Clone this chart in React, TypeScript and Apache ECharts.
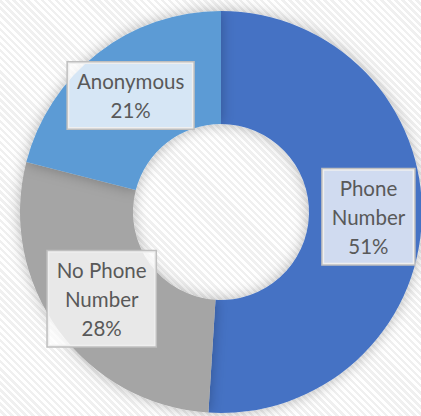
import React, { useEffect, useRef } from "react";
import * as echarts from "echarts";

const categories = ["Phone Number", "No Phone Number", "Anonymous"];
const labelText = ["Phone\nNumber", "No Phone\nNumber", "Anonymous"];
const values = [51, 28, 21];
const colors = ["#4472C4", "#A5A5A5", "#5B9BD5"];

export default function App() {
  const ref = useRef<HTMLDivElement>(null);
  useEffect(() => {
    document.body.style.margin = "0";
    const chart = echarts.init(ref.current!, null, { renderer: "svg" });
    chart.setOption({
      animation: false,
      backgroundColor: "transparent",
      series: [
        {
          type: "pie",
          center: [221, 212],
          radius: [88, 201],
          startAngle: 90,
          clockwise: true,
          data: categories.map((c, i) => ({
            name: c,
            value: values[i],
            itemStyle: { color: colors[i] },
          })),
          itemStyle: {
            shadowBlur: 14,
            shadowColor: "rgba(0,0,0,0.28)",
            borderWidth: 0,
          },
          emphasis: { disabled: true },
          label: {
            show: true,
            position: "inside",
            formatter: (p: any) => `${labelText[p.dataIndex]}\n${p.percent.toFixed(0)}%`,
            fontFamily: "Lato, 'Open Sans', sans-serif",
            fontSize: 20.5,
            lineHeight: 29,
            color: "#595959",
            backgroundColor: "rgba(255,255,255,0.75)",
            borderColor: "#BFBFBF",
            borderWidth: 1.5,
            padding: [5, 9, 3, 9],
            align: "center",
          },
          labelLine: { show: false },
        },
      ],
    });
    return () => chart.dispose();
  }, []);
  return (
    <div
      style={{
        width: 421,
        height: 416,
        background:
          "repeating-linear-gradient(45deg, #ffffff 0px, #ffffff 2.5px, #f0f0f0 2.5px, #f0f0f0 5px)",
      }}
    >
      <div ref={ref} style={{ width: 421, height: 416 }} />
    </div>
  );
}
